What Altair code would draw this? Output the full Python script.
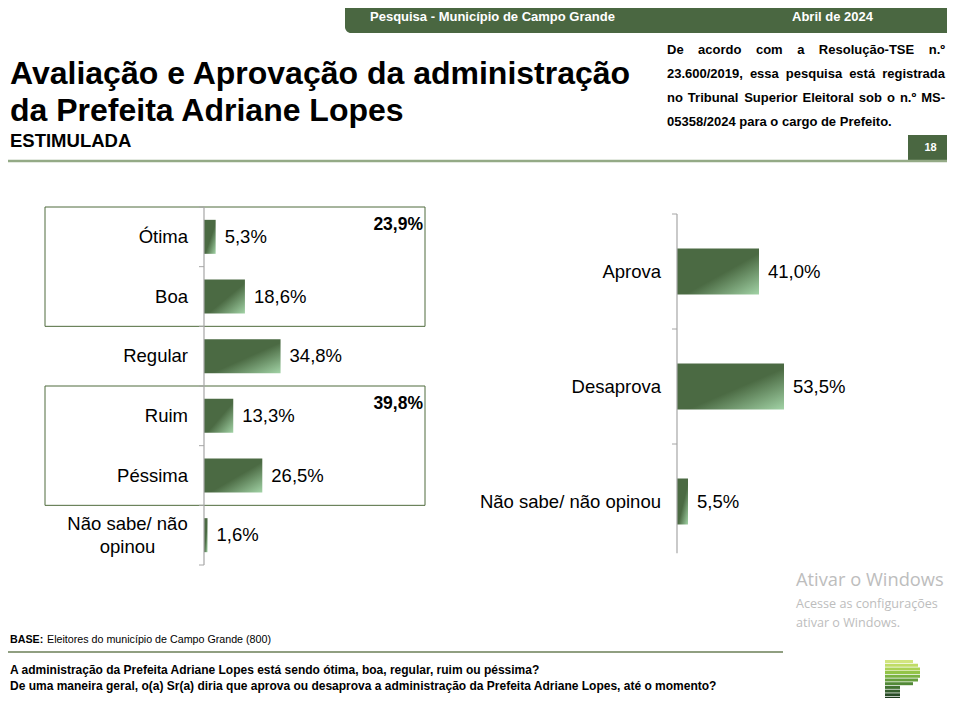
import altair as alt
import pandas as pd

# ---------------- data ----------------
eval_categories = ["Ótima", "Boa", "Regular", "Ruim", "Péssima", "Não sabe/ não opinou"]
eval_values = [5.3, 18.6, 34.8, 13.3, 26.5, 1.6]
eval_groups = [["Ótima", "Boa"], ["Ruim", "Péssima"]]

appr_categories = ["Aprova", "Desaprova", "Não sabe/ não opinou"]
appr_values = [41.0, 53.5, 5.5]

wrapped_labels = {"Não sabe/ não opinou": "Não sabe/ não\nopinou"}

header_left = "Pesquisa - Município de Campo Grande"
header_right = "Abril de 2024"
title_lines = ["Avaliação e Aprovação da administração", "da Prefeita Adriane Lopes"]
subtitle = "ESTIMULADA"
note_lines = [
    "De acordo com a Resolução-TSE n.º",
    "23.600/2019, essa pesquisa está registrada",
    "no Tribunal Superior Eleitoral sob o n.º MS-",
    "05358/2024 para o cargo de Prefeito.",
]
page_number = "18"
base_bold = "BASE:"
base_text = "Eleitores do município de Campo Grande (800)"
questions = [
    "A administração da Prefeita Adriane Lopes está sendo ótima, boa, regular, ruim ou péssima?",
    "De uma maneira geral, o(a) Sr(a) diria que aprova ou desaprova a administração da Prefeita Adriane Lopes, até o momento?",
]
watermark = ["Ativar o Windows", "Acesse as configurações", "ativar o Windows."]
logo_widths = [28, 33, 35, 35, 35, 33, 28, 15, 15, 15, 15, 15]
logo_colors = ["#d2e57f", "#c0dc66", "#abd254", "#93c448", "#7ab241", "#659e3c",
               "#528937", "#427332", "#345e2c", "#284b26", "#1c391d", "#122a13"]

# ---------------- styling ----------------
FONT = "Liberation Sans, Arial, sans-serif"
WFONT = "Open Sans, Noto Sans, sans-serif"
GREEN = "#4a6741"
W, H = 939, 690

GRAD = alt.LinearGradient(
    gradient="linear",
    stops=[
        alt.GradientStop(color="#4b6a43", offset=0),
        alt.GradientStop(color="#4b6a43", offset=0.55),
        alt.GradientStop(color="#a2d3a6", offset=1),
    ],
    x1=0, x2=1, y1=0, y2=1,
)


def fmt(v):
    return f"{v:.1f}".replace(".", ",") + "%"


def txt(text, x, y, size, weight="normal", color="#000000", align="left",
        baseline="middle", font=FONT):
    return alt.Chart(alt.Data(values=[{"t": text}])).mark_text(
        align=align, baseline=baseline, fontSize=size, fontWeight=weight,
        color=color, font=font
    ).encode(text="t:N", x=alt.value(x), y=alt.value(y))


def rect(x, x2, y, y2, color, **kw):
    return alt.Chart(alt.Data(values=[{"a": 1}])).mark_rect(color=color, **kw).encode(
        x=alt.value(x), x2=alt.value(x2), y=alt.value(y), y2=alt.value(y2))


def rule(x, x2, y, y2, color, width):
    return alt.Chart(alt.Data(values=[{"a": 1}])).mark_rule(color=color, strokeWidth=width).encode(
        x=alt.value(x), x2=alt.value(x2), y=alt.value(y), y2=alt.value(y2))


# Arial Bold advance widths (per 1000 em) for justification of the note
AB = {}
for chars, w in [(" .,/:ijlIí", 278), ("-tf", 333), ("r", 389), ("z", 500),
                 ("acekvsxyãáçéêJ0123456789", 556), ("bdghnopquóõúFLTZ", 611),
                 ("EPSVXY", 667), ("ABCDHKNRU", 722), ("GOQw", 778), ("M", 833),
                 ("m", 889), ("W", 944)]:
    for c in chars:
        AB[c] = w
AB["º"] = 365


def tw(s, size):
    return sum(AB.get(c, 556) for c in s) / 1000 * size


layers = []

# ---------------- header ----------------
layers.append(rect(337, W, 0, 25, GREEN, cornerRadiusBottomLeft=6))
layers.append(txt(header_left, 362, 9, 13, "bold", "#ffffff"))
layers.append(txt(header_right, 784, 9, 13, "bold", "#ffffff"))
layers.append(txt(title_lines[0], 2, 76, 32, "bold", "#000000", baseline="alphabetic"))
layers.append(txt(title_lines[1], 2, 113, 32, "bold", "#000000", baseline="alphabetic"))
layers.append(txt(subtitle, 2, 139, 18.5, "bold", "#000000", baseline="alphabetic"))

NOTE_L, NOTE_R, NOTE_SIZE = 659, 937, 13
rows = []
for i, line in enumerate(note_lines):
    y = 42 + 24 * i
    words = line.split(" ")
    if i < len(note_lines) - 1:
        widths = [tw(w, NOTE_SIZE) for w in words]
        gap = (NOTE_R - NOTE_L - sum(widths)) / (len(words) - 1)
        x = NOTE_L
        for w, wd in zip(words, widths):
            rows.append({"t": w, "x": x, "y": y})
            x += wd + gap
    else:
        rows.append({"t": line, "x": NOTE_L, "y": y})
layers.append(
    alt.Chart(pd.DataFrame(rows)).mark_text(
        align="left", baseline="middle", fontSize=NOTE_SIZE, fontWeight="bold",
        font=FONT, color="#000000"
    ).encode(text="t:N", x=alt.X("x:Q", scale=None), y=alt.Y("y:Q", scale=None))
)

layers.append(rect(900, 945, 127, 152, GREEN))
layers.append(txt(page_number, 922.5, 140, 11, "bold", "#ffffff", align="center"))
layers.append(rule(0, W, 153, 153, "#94aa86", 2.5))

# ---------------- left chart: avaliação ----------------
ev = pd.DataFrame({"cat": eval_categories, "val": eval_values})
ev["pct"] = ev["val"].map(fmt)
ev["lbl"] = ev["cat"].map(lambda c: wrapped_labels.get(c, c))
ev_single = ev[~ev["lbl"].str.contains("\n")]
ev_multi = ev[ev["lbl"].str.contains("\n")]

ysc_l = alt.Scale(domain=eval_categories, range=[199, 557], paddingInner=0.43, paddingOuter=0.215)
xsc_l = alt.Scale(domain=[0, 100], range=[196, 416], nice=False)
Y_l = alt.Y("cat:N", scale=ysc_l, axis=None)

left_bars = alt.layer(
    alt.Chart(ev).mark_bar(color=GRAD).encode(
        y=Y_l, x=alt.X("val:Q", scale=xsc_l, axis=None)),
    alt.Chart(ev).mark_text(align="left", baseline="middle", dx=9, fontSize=18.5,
                            font=FONT, color="#000000").encode(
        y=Y_l, x=alt.X("val:Q", scale=xsc_l, axis=None), text="pct:N"),
    alt.Chart(ev_single).mark_text(align="right", baseline="middle", fontSize=18.5,
                                   font=FONT, color="#000000").encode(
        y=Y_l, x=alt.value(180), text="lbl:N"),
    alt.Chart(ev_multi).mark_text(align="center", baseline="middle", fontSize=18.5,
                                  lineBreak="\n", lineHeight=23, dy=-11.5,
                                  font=FONT, color="#000000").encode(
        y=Y_l, x=alt.value(119.5), text="lbl:N"),
)
layers.append(left_bars)

grp = pd.DataFrame({
    "start": [eval_categories.index(g[0]) for g in eval_groups],
    "end": [eval_categories.index(g[-1]) + 1 for g in eval_groups],
    "label": [fmt(sum(eval_values[eval_categories.index(c)] for c in g)) for g in eval_groups],
})
idx_l = alt.Scale(domain=[0, len(eval_categories)], range=[199, 557], nice=False, zero=False)
ticks_l = pd.DataFrame({"i": list(range(len(eval_categories) + 1))})
left_frame = alt.layer(
    alt.Chart(grp).mark_rect(fillOpacity=0, stroke="#4f6a3c", strokeWidth=1).encode(
        x=alt.value(37), x2=alt.value(417),
        y=alt.Y("start:Q", scale=idx_l, axis=None), y2="end:Q"),
    alt.Chart(grp).mark_text(align="right", baseline="middle", dy=18, fontSize=17.5,
                             fontWeight="bold", font=FONT, color="#000000").encode(
        x=alt.value(415), y=alt.Y("start:Q", scale=idx_l, axis=None), text="label:N"),
    alt.Chart(ticks_l).mark_rule(color="#a6a6a6", strokeWidth=1).encode(
        x=alt.value(191), x2=alt.value(196), y=alt.Y("i:Q", scale=idx_l, axis=None)),
    alt.Chart(pd.DataFrame({"a": [0], "b": [len(eval_categories)]})).mark_rule(
        color="#a6a6a6", strokeWidth=1.2).encode(
        x=alt.value(196), y=alt.Y("a:Q", scale=idx_l, axis=None), y2="b:Q"),
)
layers.append(left_frame)

# ---------------- right chart: aprovação ----------------
ap = pd.DataFrame({"cat": appr_categories, "val": appr_values})
ap["pct"] = ap["val"].map(fmt)
ysc_r = alt.Scale(domain=appr_categories, range=[206, 551], paddingInner=0.6, paddingOuter=0.3)
xsc_r = alt.Scale(domain=[0, 100], range=[669, 869], nice=False)
Y_r = alt.Y("cat:N", scale=ysc_r, axis=None)
right_bars = alt.layer(
    alt.Chart(ap).mark_bar(color=GRAD).encode(
        y=Y_r, x=alt.X("val:Q", scale=xsc_r, axis=None)),
    alt.Chart(ap).mark_text(align="left", baseline="middle", dx=9, fontSize=18.5,
                            font=FONT, color="#000000").encode(
        y=Y_r, x=alt.X("val:Q", scale=xsc_r, axis=None), text="pct:N"),
    alt.Chart(ap).mark_text(align="right", baseline="middle", fontSize=18.5,
                            font=FONT, color="#000000").encode(
        y=Y_r, x=alt.value(653), text="cat:N"),
)
layers.append(right_bars)

idx_r = alt.Scale(domain=[0, len(appr_categories)], range=[206, 551], nice=False, zero=False)
ticks_r = pd.DataFrame({"i": list(range(len(appr_categories)))})
right_frame = alt.layer(
    alt.Chart(ticks_r).mark_rule(color="#a6a6a6", strokeWidth=1).encode(
        x=alt.value(664), x2=alt.value(669), y=alt.Y("i:Q", scale=idx_r, axis=None)),
    alt.Chart(pd.DataFrame({"a": [0], "b": [2.95]})).mark_rule(
        color="#a6a6a6", strokeWidth=1.2).encode(
        x=alt.value(669), y=alt.Y("a:Q", scale=idx_r, axis=None), y2="b:Q"),
)
layers.append(right_frame)

# ---------------- footer ----------------
layers.append(txt(watermark[0], 788, 573, 18.3, "normal", "#bdbdbd", font=WFONT))
layers.append(txt(watermark[1], 788, 596, 12.6, "normal", "#bdbdbd", font=WFONT))
layers.append(txt(watermark[2], 788, 615, 12.6, "normal", "#bdbdbd", font=WFONT))

layers.append(txt(base_bold, 2, 632, 10.7, "bold"))
layers.append(txt(base_text, 39, 632, 10.7, "normal"))
layers.append(rule(0, 775, 644, 644, "#6b7f57", 1.5))
layers.append(txt(questions[0], 2, 662, 12, "bold"))
layers.append(txt(questions[1], 2, 678, 12, "bold"))

logo = pd.DataFrame({
    "y0": [652 + 3.7 * i for i in range(len(logo_widths))],
    "w": logo_widths,
    "c": logo_colors,
})
logo["y1"] = logo["y0"] + 3
logo["x0"] = 877
logo["x1"] = logo["x0"] + logo["w"]
layers.append(
    alt.Chart(logo).mark_rect().encode(
        x=alt.X("x0:Q", scale=None), x2="x1:Q",
        y=alt.Y("y0:Q", scale=None), y2="y1:Q",
        color=alt.Color("c:N", scale=None))
)

chart = (
    alt.layer(*layers)
    .properties(width=W, height=H, autosize=alt.AutoSizeParams(type="none"), padding=0)
    .resolve_scale(x="independent", y="independent")
    .configure_view(strokeWidth=0)
)

chart.save("out.html", embed_options={"renderer": "svg", "actions": False})
